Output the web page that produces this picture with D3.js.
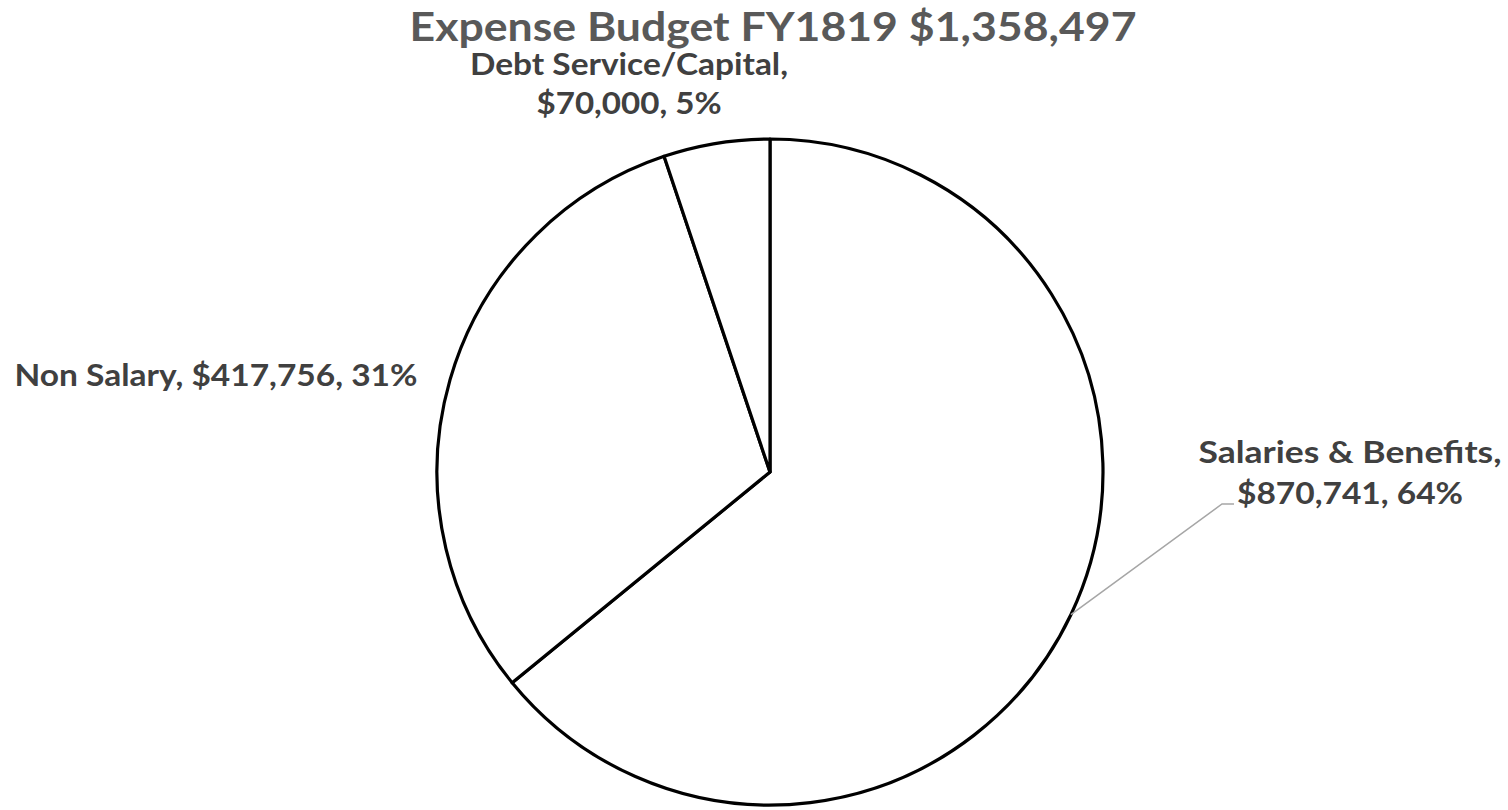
<!DOCTYPE html>
<html>
<head>
<meta charset="utf-8">
<script src="https://cdn.jsdelivr.net/npm/d3@7"></script>
<style>
  html, body { margin: 0; padding: 0; background: #fff; }
  svg { display: block; }
</style>
</head>
<body>
<svg id="chart" width="1508" height="810"></svg>
<script>
// ---- data ----
const title = "Expense Budget FY1819 $1,358,497";
const categories = ["Salaries & Benefits", "Non Salary", "Debt Service/Capital"];
const values = [870741, 417756, 70000];

// ---- layout ----
const W = 1508, H = 810;
const cx = 770, cy = 472, R = 333;
const fontFam = "Lato, 'Open Sans', 'DejaVu Sans', sans-serif";

const svg = d3.select("#chart");
const total = d3.sum(values);
const money = d3.format("$,");

const pie = d3.pie().sort(null).value(d => d.value);
const arcs = pie(categories.map((c, i) => ({ cat: c, value: values[i] })));
const arc = d3.arc().innerRadius(0).outerRadius(R);

const g = svg.append("g").attr("transform", `translate(${cx},${cy})`);
g.selectAll("path.slice")
  .data(arcs)
  .join("path")
  .attr("class", "slice")
  .attr("d", arc)
  .attr("fill", "#ffffff")
  .attr("stroke", "#000000")
  .attr("stroke-width", 3.2)
  .attr("stroke-linejoin", "round");

// title
svg.append("text")
  .attr("x", 773).attr("y", 41)
  .attr("text-anchor", "middle")
  .attr("font-family", fontFam)
  .attr("font-weight", "bold")
  .attr("font-size", 41)
  .attr("fill", "#595959")
  .attr("textLength", 727)
  .attr("lengthAdjust", "spacingAndGlyphs")
  .text(title);

// label placement (layout only)
const labelLayout = [
  { x: 1350, ys: [463, 504], widths: [303, 226], split: true },
  { x: 216,  ys: [386],      widths: [403],      split: false },
  { x: 629,  ys: [75, 114],  widths: [318, 185], split: true }
];

arcs.forEach((a, i) => {
  const pct = Math.round(a.data.value / total * 100);
  const lay = labelLayout[i];
  const lines = lay.split
    ? [a.data.cat + ",", money(a.data.value) + ", " + pct + "%"]
    : [a.data.cat + ", " + money(a.data.value) + ", " + pct + "%"];
  lines.forEach((t, j) => {
    svg.append("text")
      .attr("x", lay.x).attr("y", lay.ys[j])
      .attr("text-anchor", "middle")
      .attr("font-family", fontFam)
      .attr("font-weight", "bold")
      .attr("font-size", 30)
      .attr("fill", "#404040")
      .attr("textLength", lay.widths[j])
      .attr("lengthAdjust", "spacingAndGlyphs")
      .text(t);
  });
});

// leader line for Salaries & Benefits
const a0 = arcs[0];
const mid = (a0.startAngle + a0.endAngle) / 2;
const p0 = [cx + Math.sin(mid) * R, cy - Math.cos(mid) * R];
svg.append("polyline")
  .attr("points", [p0, [1222, 504], [1234, 504]].map(p => p.join(",")).join(" "))
  .attr("fill", "none")
  .attr("stroke", "#a6a6a6")
  .attr("stroke-width", 1.5);
</script>
</body>
</html>
